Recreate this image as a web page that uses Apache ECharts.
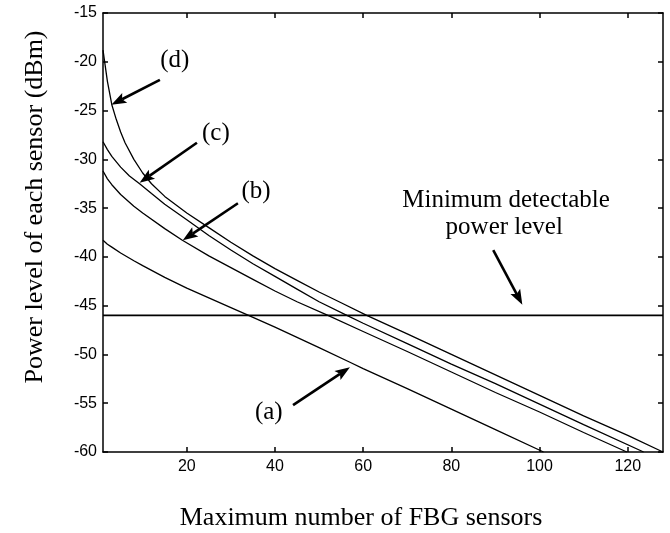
<!DOCTYPE html>
<html>
<head>
<meta charset="utf-8">
<script src="https://cdn.jsdelivr.net/npm/echarts@6/dist/echarts.min.js"></script>
<style>
  html, body { margin: 0; padding: 0; background: #ffffff; }
  #chart { width: 670px; height: 533px; }
</style>
</head>
<body>
<div id="chart"></div>
<script>
// Power level of each sensor (dBm) versus the number of FBG sensors, four configurations
const curveA = [[1,-38.3],[2,-38.7],[3,-39.0],[5,-39.6],[8,-40.4],[10,-40.9],[15,-42.1],[20,-43.2],[25,-44.2],[30,-45.2],[34,-46.0],[40,-47.2],[45,-48.25],[50,-49.3],[57,-50.8],[60,-51.45],[70,-53.5],[80,-55.6],[90,-57.7],[100.9,-60.0]];
const curveB = [[1,-31.2],[2,-32.0],[3,-32.6],[5,-33.6],[8,-34.8],[10,-35.5],[15,-37.1],[19,-38.3],[25,-39.9],[30,-41.1],[35,-42.3],[40,-43.5],[45,-44.6],[52,-46.0],[60,-47.65],[70,-49.7],[80,-51.8],[90,-53.9],[100,-55.9],[110,-58.0],[119.8,-60.0]];
const curveC = [[1,-28.2],[2,-29.0],[3,-29.7],[5,-30.8],[7,-31.7],[9.3,-32.5],[12,-33.5],[15,-34.6],[20,-36.2],[25,-37.8],[30,-39.3],[35,-40.7],[40,-42.0],[45,-43.3],[50,-44.6],[56.3,-46.0],[60,-46.8],[70,-48.9],[80,-51.0],[90,-53.0],[100,-55.1],[110,-57.2],[123.6,-60.0]];
const curveD = [[1,-18.8],[2,-22.0],[3,-24.4],[4,-25.9],[5,-27.2],[6,-28.3],[8,-30.0],[10,-31.4],[12,-32.5],[15,-33.8],[20,-35.5],[25,-37.0],[30,-38.5],[35,-39.9],[40,-41.2],[45,-42.4],[50,-43.6],[55,-44.7],[60.8,-46.0],[70,-47.9],[80,-50.0],[90,-52.1],[100,-54.2],[110,-56.3],[120,-58.3],[128,-60.0]];

// Minimum detectable power level (dBm)
const minDetectable = -46;

// Axis ranges and tick values
const sensorRange = [1, 128];
const powerRange = [-60, -15];
const xTickValues = [20, 40, 60, 80, 100, 120];
const yTickStep = 5;

// Annotation text and arrows, placed in data coordinates (sensors, dBm)
const notes = [
  { text: '(d)', at: [17.3, -19.9] },
  { text: '(c)', at: [26.6, -27.3] },
  { text: '(b)', at: [35.7, -33.3] },
  { text: '(a)', at: [38.6, -55.9] },
  { text: 'Minimum detectable', at: [92.4, -34.2] },
  { text: 'power level', at: [92.0, -37.0] }
];
const pointers = [
  { from: [13.9, -21.85], to: [2.9, -24.4] },
  { from: [22.3, -28.3], to: [9.3, -32.4] },
  { from: [31.6, -34.5], to: [19.1, -38.3] },
  { from: [44.1, -55.2], to: [57.0, -51.3] },
  { from: [89.5, -39.3], to: [96.1, -44.9] }
];

const serif = '"Liberation Serif", "Times New Roman", serif';
const sans = '"Liberation Sans", Arial, sans-serif';
const ink = '#000000';

const chart = echarts.init(document.getElementById('chart'), null, { renderer: 'canvas' });

function curveSeries(name, data) {
  return {
    name: name,
    type: 'line',
    data: data,
    showSymbol: false,
    symbol: 'none',
    smooth: false,
    clip: true,
    lineStyle: { color: ink, width: 1.3 },
    animation: false,
    z: 3
  };
}

const frameX = (pos, labels) => ({
  type: 'value',
  position: pos,
  min: sensorRange[0],
  max: sensorRange[1],
  axisLine: { show: true, onZero: false, lineStyle: { color: ink, width: 1.5 } },
  axisTick: { show: true, inside: true, length: 5, customValues: xTickValues, lineStyle: { color: ink, width: 1.5 } },
  axisLabel: { show: labels, customValues: xTickValues, margin: 7, color: ink, fontFamily: sans, fontSize: 16 },
  splitLine: { show: false }
});

const frameY = (pos, labels) => ({
  type: 'value',
  position: pos,
  min: powerRange[0],
  max: powerRange[1],
  interval: yTickStep,
  axisLine: { show: true, onZero: false, lineStyle: { color: ink, width: 1.5 } },
  axisTick: { show: true, inside: true, length: 5, lineStyle: { color: ink, width: 1.5 } },
  axisLabel: { show: labels, margin: 6, color: ink, fontFamily: sans, fontSize: 16 },
  splitLine: { show: false }
});

chart.setOption({
  backgroundColor: '#ffffff',
  animation: false,
  grid: { left: 103, right: 7, top: 13, bottom: 81, containLabel: false },
  xAxis: [frameX('bottom', true), frameX('top', false)],
  yAxis: [frameY('left', true), frameY('right', false)],
  series: [
    curveSeries('(a)', curveA),
    curveSeries('(b)', curveB),
    curveSeries('(c)', curveC),
    curveSeries('(d)', curveD),
    {
      name: 'Minimum detectable power level',
      type: 'line',
      data: [[sensorRange[0], minDetectable], [sensorRange[1], minDetectable]],
      symbol: 'none',
      lineStyle: { color: ink, width: 1.8 },
      animation: false,
      z: 3
    }
  ]
});

// Axis titles, annotation labels and pointer arrows
const toPx = (p) => chart.convertToPixel({ gridIndex: 0 }, p);
const graphics = [];

graphics.push({
  type: 'text',
  x: 35, y: 207,
  rotation: Math.PI / 2,
  style: { text: 'Power level of each sensor (dBm)', font: '26px ' + serif, fill: ink, textAlign: 'center', textVerticalAlign: 'middle' }
});
graphics.push({
  type: 'text',
  x: 361, y: 518,
  style: { text: 'Maximum number of FBG sensors', font: '26px ' + serif, fill: ink, textAlign: 'center', textVerticalAlign: 'middle' }
});

notes.forEach((n) => {
  const p = toPx(n.at);
  graphics.push({
    type: 'text',
    x: p[0], y: p[1],
    style: { text: n.text, font: '25px ' + serif, fill: ink, textAlign: 'center', textVerticalAlign: 'middle' },
    z: 10
  });
});

pointers.forEach((a) => {
  const t = toPx(a.from);
  const h = toPx(a.to);
  const dx = h[0] - t[0], dy = h[1] - t[1];
  const len = Math.sqrt(dx * dx + dy * dy);
  const ux = dx / len, uy = dy / len;
  const nx = -uy, ny = ux;
  const headLen = 15, headHalf = 5.5;
  const bx = h[0] - ux * headLen, by = h[1] - uy * headLen;
  graphics.push({
    type: 'line',
    shape: { x1: t[0], y1: t[1], x2: bx + ux * 3, y2: by + uy * 3 },
    style: { stroke: ink, lineWidth: 2.6 },
    z: 10
  });
  graphics.push({
    type: 'polygon',
    shape: { points: [[h[0], h[1]], [bx + nx * headHalf, by + ny * headHalf], [bx + ux * 3, by + uy * 3], [bx - nx * headHalf, by - ny * headHalf]] },
    style: { fill: ink },
    z: 10
  });
});

chart.setOption({ graphic: graphics });
</script>
</body>
</html>
